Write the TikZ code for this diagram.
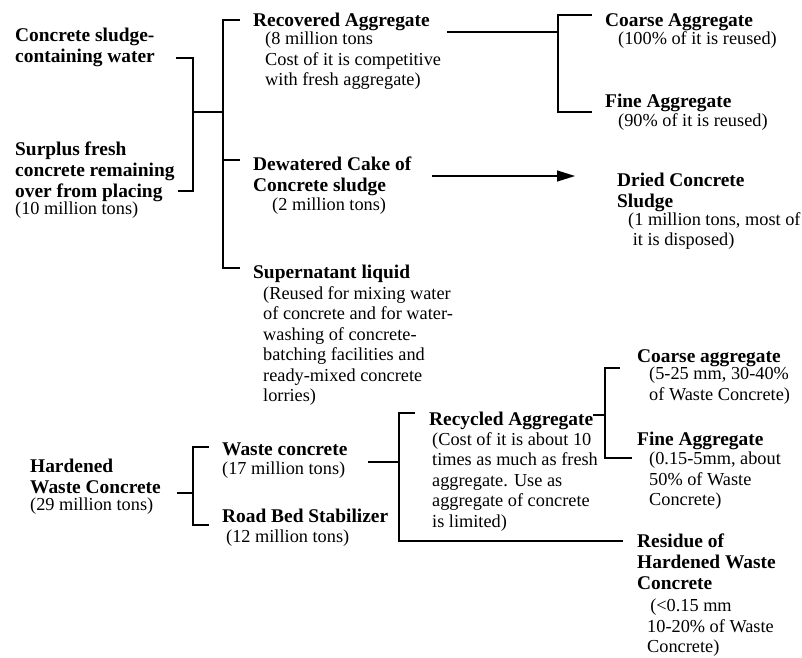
\documentclass[tikz,border=0pt]{standalone}
\usepackage{fontspec}
\setmainfont{Liberation Serif}
\usetikzlibrary{arrows.meta}

\tikzset{
  head/.style={anchor=north west, inner sep=0pt, align=left, font=\fontsize{19.4}{21}\selectfont\bfseries},
  note/.style={anchor=north west, inner sep=0pt, align=left, font=\fontsize{18.3}{20.5}\selectfont},
  link/.style={line width=1.2pt}
}

\begin{document}
\begin{tikzpicture}[x=1pt, y=-1pt]
    \useasboundingbox (0,0) rectangle (802,657);

    % sludge water and surplus fresh concrete
    \node (sludge) [head] at (15,28) {Concrete sludge-\\containing water};
    \node (surplus) [head] at (15,142) {Surplus fresh\\concrete remaining\\over from placing};
    \node (surplusn) [note] at (15,202) {(10 million tons)};

    \node (recov) [head] at (253,13) {Recovered Aggregate};
    \node (recovn) [note] at (265,32) {(8 million tons\\Cost of it is competitive\\with fresh aggregate)};
    \node (coarse) [head] at (605,13) {Coarse Aggregate};
    \node (coarsen) [note] at (618,31) {(100\% of it is reused)};
    \node (fine) [head] at (605,94) {Fine Aggregate};
    \node (finen) [note] at (618,113) {(90\% of it is reused)};

    \node (dewat) [head] at (253,157) {Dewatered Cake of\\Concrete sludge};
    \node (dewatn) [note] at (272,198) {(2 million tons)};
    \node (dried) [head] at (617,173) {Dried Concrete\\Sludge};
    \node (driedn) [note] at (628,212) {(1 million tons, most of\\\ it is disposed)};

    \node (supern) [head] at (253,265) {Supernatant liquid};
    \node (supernn) [note] at (263,286) {(Reused for mixing water\\of concrete and for water-\\washing of concrete-\\batching facilities and\\ready-mixed concrete\\lorries)};

    % hardened waste concrete
    \node (hard) [head] at (30,459) {Hardened\\Waste Concrete};
    \node (hardn) [note] at (30,498) {(29 million tons)};
    \node (waste) [head] at (222,443) {Waste concrete};
    \node (wasten) [note] at (222,462) {(17 million tons)};
    \node (road) [head] at (222,509) {Road Bed Stabilizer};
    \node (roadn) [note] at (226,530) {(12 million tons)};

    \node (recyc) [head] at (429,412) {Recycled Aggregate};
    \node (recycn) [note] at (432,432) {(Cost of it is about 10\\times as much as fresh\\aggregate. Use as\\aggregate of concrete\\is limited)};
    \node (coarse2) [head] at (637,349) {Coarse aggregate};
    \node (coarse2n) [note] at (649,367) {(5-25 mm, 30-40\%\\of Waste Concrete)};
    \node (fine2) [head] at (637,432) {Fine Aggregate};
    \node (fine2n) [note] at (649,452) {(0.15-5mm, about\\50\% of Waste\\Concrete)};
    \node (resid) [head] at (637,534) {Residue of\\Hardened Waste\\Concrete};
    \node (residn) [note] at (647,599) {\,(<0.15 mm\\10-20\% of Waste\\Concrete)};

    % bracket ends
    \coordinate (a-top) at (176,58);
    \coordinate (a-bot) at (178,191);
    \coordinate (a-j) at (193,112);
    \coordinate (b-j) at (223,112);
    \coordinate (b-top) at (240,20);
    \coordinate (b-dew) at (240,160);
    \coordinate (b-bot) at (240,268);
    \coordinate (c-in) at (447,32);
    \coordinate (c-j) at (558,32);
    \coordinate (c-top) at (592,15);
    \coordinate (c-bot) at (592,112);
    \coordinate (d-tail) at (432,176);
    \coordinate (d-head) at (575,176);
    \coordinate (e-in) at (177,493);
    \coordinate (e-j) at (193,493);
    \coordinate (e-top) at (209,447);
    \coordinate (e-bot) at (209,525);
    \coordinate (f-in) at (368,462);
    \coordinate (f-j) at (399,462);
    \coordinate (f-top) at (415,413);
    \coordinate (f-bot) at (623,541);
    \coordinate (g-in) at (593,415);
    \coordinate (g-j) at (605,415);
    \coordinate (g-top) at (620,368);
    \coordinate (g-bot) at (632,458);

    \draw [link] (a-top) -| (a-j) |- (a-bot);
    \draw [link] (a-j) -- (b-j);
    \draw [link] (b-top) -| (b-j) |- (b-bot);
    \draw [link] (b-dew) -- (b-dew -| b-j);
    \draw [link] (c-in) -- (c-j);
    \draw [link] (c-top) -| (c-j) |- (c-bot);
    \draw [link, -{Triangle[length=18pt, width=11pt]}] (d-tail) -- (d-head);
    \draw [link] (e-in) -- (e-j);
    \draw [link] (e-top) -| (e-j) |- (e-bot);
    \draw [link] (f-in) -- (f-j);
    \draw [link] (f-top) -| (f-j) |- (f-bot);
    \draw [link] (g-in) -- (g-j);
    \draw [link] (g-top) -| (g-j) |- (g-bot);
\end{tikzpicture}
\end{document}
